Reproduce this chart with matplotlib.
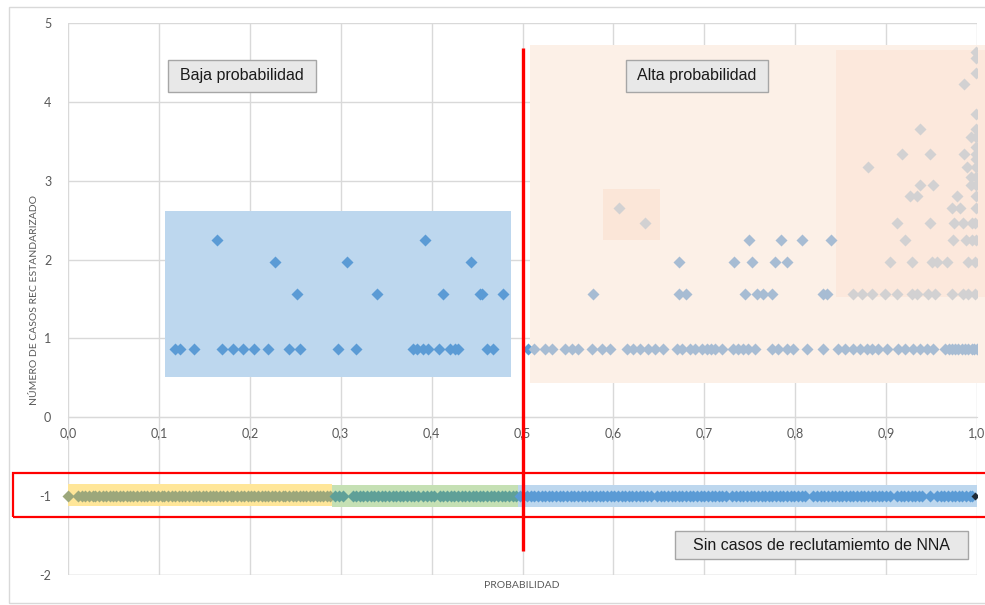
import matplotlib
matplotlib.use("Agg")
import matplotlib.pyplot as plt
from matplotlib.patches import Rectangle

plt.rcParams["axes.unicode_minus"] = False

# ---------------- data ----------------
x_ticks = [0.0, 0.1, 0.2, 0.3, 0.4, 0.5, 0.6, 0.7, 0.8, 0.9, 1.0]
x_tick_labels = ["0,0", "0,1", "0,2", "0,3", "0,4", "0,5", "0,6", "0,7", "0,8", "0,9", "1,0"]
y_ticks = [-2, -1, 0, 1, 2, 3, 4, 5]

# low probability region (blue markers)
bajo_x = [0.118, 0.123, 0.139, 0.169, 0.182, 0.193, 0.205, 0.220, 0.243, 0.255, 0.297, 0.317,
          0.380, 0.384, 0.390, 0.396, 0.408, 0.420, 0.426, 0.429, 0.461, 0.468, 0.506,
          0.252, 0.340, 0.413, 0.453, 0.455, 0.479,
          0.228, 0.307, 0.443,
          0.164, 0.393]
bajo_y = [0.87] * 23 + [1.56] * 6 + [1.97] * 3 + [2.25] * 2

# high probability region (grey-blue markers)
alto_x = [0.513, 0.525, 0.532, 0.547, 0.554, 0.561, 0.577, 0.588, 0.596, 0.615, 0.622, 0.629,
          0.638, 0.646, 0.655, 0.670, 0.675, 0.684, 0.690, 0.697, 0.703, 0.707, 0.712, 0.719,
          0.732, 0.737, 0.743, 0.748, 0.756, 0.774, 0.781, 0.791, 0.798, 0.813, 0.831, 0.847,
          0.855, 0.864, 0.871, 0.879, 0.884, 0.891, 0.901, 0.913, 0.921, 0.930, 0.937, 0.945,
          0.952, 0.965, 0.969, 0.972, 0.976, 0.979, 0.983, 0.987, 0.990, 0.994, 0.997, 1.000,
          0.578, 0.672, 0.680, 0.745, 0.758, 0.765, 0.775, 0.831, 0.835,
          0.672, 0.733, 0.752, 0.778, 0.791,
          0.749, 0.784, 0.808, 0.839]
alto_y = [0.87] * 60 + [1.56] * 9 + [1.97] * 5 + [2.25] * 4

# highlighted points (grey markers)
dest_x = [0.606, 0.635,
          0.864, 0.873, 0.884, 0.899, 0.912, 0.928, 0.934, 0.946, 0.954, 0.973, 0.985, 0.990, 0.998,
          0.904, 0.928, 0.951, 0.956, 0.967, 0.990, 0.998,
          0.921, 0.974, 0.988, 0.994, 0.999,
          0.912, 0.948, 0.975, 0.985, 0.994, 0.998,
          0.972, 0.981, 0.999,
          0.926, 0.934, 0.978, 0.999,
          0.937, 0.952, 0.993, 0.999,
          0.993, 0.999,
          0.880, 0.989, 0.999,
          0.999,
          0.918, 0.948, 0.986, 0.999,
          0.999,
          0.993, 0.999,
          0.937, 0.999,
          0.999,
          0.986,
          0.999,
          0.999,
          0.999]
dest_y = ([2.65, 2.47] + [1.56] * 13 + [1.97] * 7 + [2.25] * 5 + [2.47] * 6 + [2.65] * 3
          + [2.81] * 4 + [2.95] * 4 + [3.05] * 2 + [3.17] * 3 + [3.27] + [3.34] * 4 + [3.43]
          + [3.56] * 2 + [3.65] * 2 + [3.85] + [4.23] + [4.36] + [4.55] + [4.63])

# cases without recruitment (y = -1)
sin_y = -1
sin_bajo_x = [0.000, 0.011, 0.015, 0.019, 0.023, 0.027, 0.030, 0.034, 0.038, 0.042, 0.046, 0.049,
              0.053, 0.057, 0.061, 0.065, 0.068, 0.072, 0.076, 0.080, 0.084, 0.087, 0.091, 0.095,
              0.099, 0.103, 0.106, 0.110, 0.114, 0.118, 0.122, 0.125, 0.129, 0.133, 0.137, 0.141,
              0.144, 0.148, 0.152, 0.156, 0.160, 0.163, 0.167, 0.171, 0.175, 0.179, 0.182, 0.186,
              0.190, 0.194, 0.198, 0.201, 0.205, 0.209, 0.213, 0.217, 0.220, 0.224, 0.228, 0.232,
              0.236, 0.239, 0.243, 0.247, 0.251, 0.255, 0.258, 0.262, 0.266, 0.270, 0.274, 0.277,
              0.281, 0.285, 0.288]
sin_medio_x = [0.294, 0.298, 0.302, 0.313, 0.317, 0.321, 0.325, 0.329, 0.333, 0.337, 0.341, 0.345,
               0.349, 0.353, 0.357, 0.361, 0.365, 0.369, 0.373, 0.377, 0.381, 0.385, 0.391, 0.395,
               0.399, 0.403, 0.409, 0.413, 0.417, 0.421, 0.425, 0.429, 0.433, 0.437, 0.441, 0.445,
               0.449, 0.453, 0.457, 0.461, 0.465, 0.469, 0.473, 0.477, 0.481, 0.485, 0.489, 0.493]
sin_alto_x = [0.497, 0.501, 0.505, 0.509, 0.513, 0.517, 0.521, 0.525, 0.529, 0.533, 0.537, 0.541,
              0.545, 0.549, 0.553, 0.557, 0.561, 0.565, 0.569, 0.573, 0.577, 0.581, 0.585, 0.589,
              0.593, 0.597, 0.601, 0.605, 0.609, 0.613, 0.617, 0.621, 0.625, 0.629, 0.633, 0.637,
              0.641, 0.648, 0.652, 0.656, 0.660, 0.664, 0.668, 0.672, 0.676, 0.680, 0.684, 0.688,
              0.692, 0.696, 0.700, 0.704, 0.708, 0.712, 0.716, 0.720, 0.724, 0.731, 0.735, 0.739,
              0.743, 0.747, 0.751, 0.755, 0.759, 0.763, 0.767, 0.771, 0.775, 0.779, 0.783, 0.787,
              0.791, 0.795, 0.799, 0.803, 0.807, 0.811, 0.820, 0.824, 0.828, 0.832, 0.836, 0.840,
              0.844, 0.848, 0.852, 0.856, 0.860, 0.864, 0.868, 0.872, 0.876, 0.880, 0.884, 0.888,
              0.892, 0.896, 0.900, 0.904, 0.912, 0.916, 0.920, 0.924, 0.928, 0.932, 0.936, 0.940,
              0.948, 0.956, 0.960, 0.964, 0.968, 0.972, 0.976, 0.980, 0.984, 0.988, 0.992, 0.995]
sin_ultimo_x = [0.998]

umbral = 0.5

# ---------------- figure ----------------
fig = plt.figure(figsize=(9.85, 6.05), dpi=100)
ax = fig.add_axes([68 / 985, 30 / 605, 909 / 985, 552 / 605])
ax.set_xlim(0, 1)
ax.set_ylim(-2, 5)

grid_c = "#D9D9D9"
txt_c = "#595959"
for s in ["top", "right", "left"]:
    ax.spines[s].set_visible(False)
ax.spines["bottom"].set_position(("data", 0))
ax.spines["bottom"].set_color(grid_c)
ax.set_xticks(x_ticks)
ax.set_xticklabels(x_tick_labels)
ax.set_yticks(y_ticks)
ax.tick_params(axis="both", length=0, colors=txt_c, labelsize=9)
ax.tick_params(axis="y", pad=12)
ax.tick_params(axis="x", pad=7)
for lab in ax.get_xticklabels() + ax.get_yticklabels():
    lab.set_fontfamily("Lato")
ax.grid(True, color=grid_c, lw=1)
ax.set_axisbelow(True)
ax.axhline(-2, color=grid_c, lw=1, zorder=0.5)

# background regions
ax.add_patch(Rectangle((0.107, 0.51), 0.380, 2.11, fc="#BDD7EE", ec="none", zorder=1, clip_on=False))
ax.add_patch(Rectangle((0.508, 0.44), 0.501, 4.28, fc="#FCF0E7", ec="none", zorder=1, clip_on=False))
ax.add_patch(Rectangle((0.845, 1.52), 0.164, 3.14, fc="#FCE8DC", ec="none", zorder=1.1, clip_on=False))
ax.add_patch(Rectangle((0.589, 2.25), 0.062, 0.65, fc="#FBE6D8", ec="none", zorder=1.1))
ax.add_patch(Rectangle((-0.003, -1.12), 0.293, 0.27, fc="#FFE699", ec="none", zorder=1))
ax.add_patch(Rectangle((0.290, -1.135), 0.205, 0.28, fc="#C5E0B4", ec="none", zorder=1))
ax.add_patch(Rectangle((0.495, -1.135), 0.508, 0.28, fc="#BDD7EE", ec="none", zorder=1))

ms = 6.5
ax.plot(bajo_x, bajo_y, ls="none", marker="D", ms=ms, mfc="#5B9BD5", mec="none", zorder=3)
ax.plot(alto_x, alto_y, ls="none", marker="D", ms=ms, mfc="#A7BCD3", mec="none", zorder=3)
ax.plot(dest_x, dest_y, ls="none", marker="D", ms=ms, mfc="#D2D1D2", mec="none", zorder=3)
ax.plot(sin_bajo_x, [sin_y] * len(sin_bajo_x), ls="none", marker="D", ms=ms,
        mfc="#9CA77B", mec="none", zorder=3, clip_on=False)
ax.plot(sin_medio_x, [sin_y] * len(sin_medio_x), ls="none", marker="D", ms=ms,
        mfc="#5FA098", mec="none", zorder=3)
ax.plot(sin_alto_x, [sin_y] * len(sin_alto_x), ls="none", marker="D", ms=ms,
        mfc="#5B9BD5", mec="none", zorder=3)
ax.plot(sin_ultimo_x, [sin_y], ls="none", marker="D", ms=4.5, mfc="#1F2A36", mec="none", zorder=3.5)

# threshold line and highlight frame
ax.plot([umbral, umbral], [-1.70, 4.68], color="#FF0000", lw=2.4, zorder=4, clip_on=False,
        solid_capstyle="butt")
ax.add_patch(Rectangle((-0.0605, -1.27), 1.075, 0.56, fc="none", ec="#FF0000", lw=1.6,
                       zorder=4, clip_on=False))

# labelled boxes
def caja(x0, x1, y0, y1, texto):
    ax.add_patch(Rectangle((x0, y0), x1 - x0, y1 - y0, fc="#E8E8E8", ec="#A6A6A6", lw=1,
                           zorder=5, clip_on=False))
    ax.text((x0 + x1) / 2, (y0 + y1) / 2, texto, ha="center", va="center", fontsize=11.5,
            family="Liberation Sans", color="#1A1A1A", zorder=6)

caja(0.110, 0.273, 4.13, 4.53, "Baja probabilidad")
caja(0.614, 0.770, 4.13, 4.53, "Alta probabilidad")
caja(0.668, 0.990, -1.797, -1.443, "Sin casos de reclutamiemto de NNA")

fig.text(35 / 985, 1 - 300 / 605, "NÚMERO DE CASOS REC ESTANDARIZADO", rotation=90,
         ha="center", va="center", fontsize=7.5, color=txt_c, family="Lato")
fig.text(522 / 985, 1 - 585 / 605, "PROBABILIDAD", ha="center", va="center",
         fontsize=7.5, color=txt_c, family="Lato")

# outer chart border
fig.patches.append(Rectangle((9 / 985, 1 - 603 / 605), 1.0, 596 / 605, transform=fig.transFigure,
                             fc="none", ec="#D9D9D9", lw=1))

fig.savefig("out.png", dpi=100)
